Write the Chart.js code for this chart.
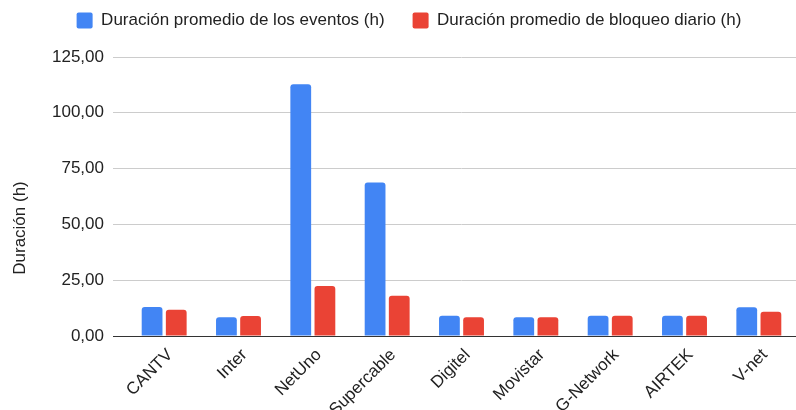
<!DOCTYPE html>
<html>
<head>
<meta charset="utf-8">
<script src="https://cdn.jsdelivr.net/npm/chart.js@4"></script>
<style>
  html, body { margin: 0; padding: 0; background: #fff; }
  #wrap { width: 796px; height: 410px; }
</style>
</head>
<body>
<div id="wrap"><canvas id="myChart"></canvas></div>
<script>
var categories = ['CANTV', 'Inter', 'NetUno', 'Supercable', 'Digitel', 'Movistar', 'G-Network', 'AIRTEK', 'V-net'];
var eventos = [13.0, 8.4, 112.8, 68.8, 9.1, 8.4, 9.1, 9.1, 12.9];
var bloqueo = [11.8, 9.0, 22.4, 18.0, 8.4, 8.4, 9.1, 9.1, 10.9];
var yTicks = [0, 25, 50, 75, 100, 125];
var yTitle = 'Duración (h)';

var fontFamily = '"Liberation Sans", Arial, sans-serif';

function formatComma(v) {
  return v.toFixed(2).replace('.', ',');
}

function gridColor(ctx) {
  return ctx.tick && ctx.tick.value === 0 ? '#333' : '#cccccc';
}

// push the plot down a bit below the legend
const legendGap = {
  id: 'legendGap',
  beforeInit: function (chart) {
    var fit = chart.legend.fit;
    chart.legend.fit = function () {
      fit.bind(chart.legend)();
      this.height += 18;
    };
  }
};

// axis title placed like the original (a bit below the middle)
const yTitlePlugin = {
  id: 'yTitlePlugin',
  afterDraw: function (chart) {
    var ctx = chart.ctx;
    ctx.save();
    ctx.translate(20, 228);
    ctx.rotate(-Math.PI / 2);
    ctx.fillStyle = '#222';
    ctx.font = '17px ' + fontFamily;
    ctx.textAlign = 'center';
    ctx.textBaseline = 'middle';
    ctx.fillText(yTitle, 0, 0);
    ctx.restore();
  }
};

const chart_data = {
  labels: categories,
  datasets: [{
    label: 'Duración promedio de los eventos (h)',
    data: eventos,
    backgroundColor: '#4285F4',
    borderRadius: 3,
    categoryPercentage: 0.65,
    barPercentage: 0.86
  }, {
    label: 'Duración promedio de bloqueo diario (h)',
    data: bloqueo,
    backgroundColor: '#EA4335',
    borderRadius: 3,
    categoryPercentage: 0.65,
    barPercentage: 0.86
  }]
};

const config = {
  type: 'bar',
  data: chart_data,
  plugins: [legendGap, yTitlePlugin],
  options: {
    responsive: true,
    maintainAspectRatio: false,
    animation: false,
    layout: { padding: { top: -16, right: 0, left: 22, bottom: 0 } },
    plugins: {
      legend: {
        position: 'top',
        labels: {
          boxWidth: 16,
          boxHeight: 16,
          padding: 28,
          color: '#222',
          font: { family: fontFamily, size: 17 },
          useBorderRadius: true,
          borderRadius: 2
        }
      },
      tooltip: { enabled: false }
    },
    scales: {
      x: {
        grid: { display: false, drawTicks: false },
        border: { display: true, color: '#333', width: 1 },
        ticks: {
          color: '#222',
          font: { family: fontFamily, size: 17 },
          maxRotation: 45,
          minRotation: 45,
          padding: 9,
          labelOffset: 6
        },
        afterFit: function (axis) { axis.height = 74; }
      },
      y: {
        min: 0,
        max: 125,
        afterBuildTicks: function (axis) {
          axis.ticks = yTicks.map(function (v) { return { value: v }; });
        },
        grid: {
          drawTicks: true,
          tickLength: 14,
          color: gridColor,
          tickColor: gridColor
        },
        border: { display: false },
        ticks: {
          color: '#222',
          font: { family: fontFamily, size: 17 },
          padding: 9,
          callback: function (v) { return formatComma(v); }
        },
        afterFit: function (axis) { axis.width = 105; }
      }
    }
  }
};

const myChart = new Chart(document.getElementById('myChart'), config);
</script>
</body>
</html>
